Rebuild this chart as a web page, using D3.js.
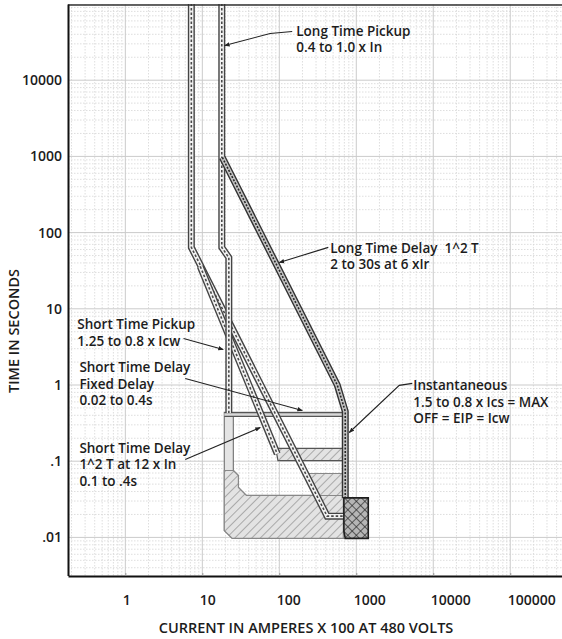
<!DOCTYPE html>
<html>
<head>
<meta charset="utf-8">
<script src="https://cdn.jsdelivr.net/npm/d3@7"></script>
<style>
  body { margin: 0; background: #fff; }
  text { font-family: "Open Sans", sans-serif; }
</style>
</head>
<body>
<div class="chart"></div>
<script>
var svgWidth = 562;
var svgHeight = 639;

// plot frame
var plot = { left: 68, right: 562, top: 4, bottom: 576 };

// axis ticks
var xTicks = [1, 10, 100, 1000, 10000, 100000];
var xTickLabels = ["1", "10", "100", "1000", "10000", "100000"];
var yTicks = [0.01, 0.1, 1, 10, 100, 1000, 10000];
var yTickLabels = [".01", ".1", "1", "10", "100", "1000", "10000"];

// trip curves, points are [current x100 A, seconds]
var pickupMin = [[7.2, 2e5], [7.2, 64], [418, 0.019], [700, 0.019]];
var stRamp = [[9.4, 36], [94, 0.125]];
var pickupMax = [[17.9, 2e5], [17.9, 64], [22.1, 47], [22.1, 0.43]];
var longTimeDelay = [[18.2, 968], [566, 1.0], [719, 0.45], [719, 0.033]];

// short time regions
var fixedOuter = [[19.3, 0.436], [764, 0.436], [764, 0.0097], [24.5, 0.0097], [19.3, 0.0123]];
var fixedInner = [[25.3, 0.386], [678, 0.386], [678, 0.0355], [37.3, 0.0355], [29.4, 0.0452], [29.4, 0.0649], [25.3, 0.0755]];
var lowerHatch = [[19.3, 0.0755], [19.3, 0.0123], [24.5, 0.0097], [678, 0.0097], [678, 0.0355], [37.3, 0.0355], [29.4, 0.0452], [29.4, 0.0649], [25.3, 0.0755]];
var fixedLine = [[19.3, 0.41], [764, 0.41]];
var midHatch = [[219, 0.069], [700, 0.069], [700, 0.0355], [306, 0.0355]];
var rampHatch = [[90, 0.147], [719, 0.147], [719, 0.102], [96, 0.102]];
var instBox = [[690, 0.033], [1431, 0.033], [1431, 0.0097], [720, 0.0097], [690, 0.012]];

// callouts: text lines, anchor [current, seconds] of first baseline, leader points
var notes = [
  { lines: ["Long Time Pickup", "0.4 to 1.0 x In"], at: [166, 38600],
    leader: [[147, 43600], [76, 41000], [19.5, 28500]] },
  { lines: ["Long Time Delay  1^2 T", "2 to 30s at 6 xIr"], at: [459, 54.8],
    leader: [[433, 64], [100, 40.5]] },
  { lines: ["Short Time Pickup", "1.25 to 0.8 x Icw"], at: [0.238, 5.35],
    leader: [[5.7, 4.07], [18.7, 2.92]] },
  { lines: ["Short Time Delay", "Fixed Delay", "0.02 to 0.4s"], at: [0.253, 1.46],
    leader: [[6.0, 1.22], [199, 0.463]] },
  { lines: ["Short Time Delay", "1^2 T at 12 x In", "0.1 to .4s"], at: [0.253, 0.130],
    leader: [[6.0, 0.105], [56.6, 0.277]] },
  { lines: ["Instantaneous", "1.5 to 0.8 x Ics = MAX", "OFF = EIP = Icw"], at: [5500, 0.847],
    leader: [[5336, 1.05], [3617, 0.99], [811, 0.238]] }
];

var svg = d3.select(".chart")
  .append("svg")
  .attr("width", svgWidth)
  .attr("height", svgHeight);

var xScale = d3.scaleLog()
  .domain([0.18, 470000])
  .range([plot.left, plot.right]);

var yScale = d3.scaleLog()
  .domain([Math.pow(10, -2.5), 1e5])
  .range([575.5, 4]);

var line = d3.line()
  .x(d => xScale(d[0]))
  .y(d => yScale(d[1]));

// patterns
var defs = svg.append("defs");

defs.append("clipPath").attr("id", "plotClip")
  .append("rect")
  .attr("x", plot.left).attr("y", plot.top)
  .attr("width", plot.right - plot.left).attr("height", plot.bottom - plot.top);

var hatch = defs.append("pattern")
  .attr("id", "hatch")
  .attr("patternUnits", "userSpaceOnUse")
  .attr("width", 6).attr("height", 6)
  .attr("patternTransform", "rotate(45)");
hatch.append("rect").attr("width", 6).attr("height", 6).attr("fill", "#e3e3e3");
hatch.append("line").attr("x1", 0).attr("y1", 0).attr("x2", 0).attr("y2", 6)
  .attr("stroke", "#707070").attr("stroke-width", 1);

var cross = defs.append("pattern")
  .attr("id", "cross")
  .attr("patternUnits", "userSpaceOnUse")
  .attr("width", 6).attr("height", 6)
  .attr("patternTransform", "rotate(45)");
cross.append("rect").attr("width", 6).attr("height", 6).attr("fill", "#b5b5b5");
cross.append("line").attr("x1", 0).attr("y1", 0).attr("x2", 0).attr("y2", 6)
  .attr("stroke", "#222").attr("stroke-width", 1.3);
cross.append("line").attr("x1", 0).attr("y1", 0).attr("x2", 6).attr("y2", 0)
  .attr("stroke", "#222").attr("stroke-width", 1.3);

defs.append("marker")
  .attr("id", "arrow")
  .attr("viewBox", "0 0 10 10")
  .attr("refX", 9).attr("refY", 5)
  .attr("markerWidth", 5).attr("markerHeight", 5)
  .attr("orient", "auto")
  .append("path")
  .attr("d", "M0,1 L10,5 L0,9 Z")
  .attr("fill", "#222");

// grid
var gridGroup = svg.append("g").attr("clip-path", "url(#plotClip)");
var minorX = [], majorX = [], minorY = [], majorY = [];
for (var k = -1; k <= 6; k++) {
  for (var m = 1; m <= 9; m++) {
    var v = m * Math.pow(10, k);
    (m === 1 ? majorX : minorX).push(v);
  }
}
for (var k = -3; k <= 5; k++) {
  for (var m = 1; m <= 9; m++) {
    var v = m * Math.pow(10, k);
    (m === 1 ? majorY : minorY).push(v);
  }
}
gridGroup.selectAll(".gxm").data(minorX).enter().append("line")
  .attr("x1", d => xScale(d)).attr("x2", d => xScale(d))
  .attr("y1", plot.top).attr("y2", plot.bottom)
  .attr("stroke", "#d6d6d6").attr("stroke-width", 0.8).attr("stroke-dasharray", "1.5,1.5");
gridGroup.selectAll(".gym").data(minorY).enter().append("line")
  .attr("y1", d => yScale(d)).attr("y2", d => yScale(d))
  .attr("x1", plot.left).attr("x2", plot.right)
  .attr("stroke", "#d6d6d6").attr("stroke-width", 0.8).attr("stroke-dasharray", "1.5,1.5");
gridGroup.selectAll(".gxM").data(majorX).enter().append("line")
  .attr("x1", d => xScale(d)).attr("x2", d => xScale(d))
  .attr("y1", plot.top).attr("y2", plot.bottom)
  .attr("stroke", "#cbcbcb").attr("stroke-width", 1);
gridGroup.selectAll(".gyM").data(majorY).enter().append("line")
  .attr("y1", d => yScale(d)).attr("y2", d => yScale(d))
  .attr("x1", plot.left).attr("x2", plot.right)
  .attr("stroke", "#cbcbcb").attr("stroke-width", 1);

// curves
var curveGroup = svg.append("g").attr("clip-path", "url(#plotClip)");

curveGroup.append("path")
  .attr("d", line(fixedOuter) + "Z" + line(fixedInner) + "Z")
  .attr("fill", "#e4e4e4").attr("fill-rule", "evenodd")
  .attr("stroke", "#7a7a7a").attr("stroke-width", 1.2);

[lowerHatch, midHatch].forEach(function(poly) {
  curveGroup.append("path")
    .attr("d", line(poly) + "Z")
    .attr("fill", "url(#hatch)")
    .attr("stroke", "#888").attr("stroke-width", 1.1);
});

// fixed delay line, darker double edge
curveGroup.append("path")
  .attr("d", line(fixedLine))
  .attr("fill", "none")
  .attr("stroke", "#555").attr("stroke-width", 5);
curveGroup.append("path")
  .attr("d", line(fixedLine))
  .attr("fill", "none")
  .attr("stroke", "#d8d8d8").attr("stroke-width", 2.4);

curveGroup.append("path")
  .attr("d", line(rampHatch) + "Z")
  .attr("fill", "url(#hatch)")
  .attr("stroke", "#555").attr("stroke-width", 1.2);

function drawBand(points, dark) {
  curveGroup.append("path")
    .attr("d", line(points))
    .attr("fill", "none")
    .attr("stroke", dark ? "#333" : "#444")
    .attr("stroke-width", 7)
    .attr("stroke-linejoin", "miter");
  curveGroup.append("path")
    .attr("d", line(points))
    .attr("fill", "none")
    .attr("stroke", dark ? "#c4c4c4" : "#f2f2f2")
    .attr("stroke-width", 4.2)
    .attr("stroke-linejoin", "miter");
  curveGroup.append("path")
    .attr("d", line(points))
    .attr("fill", "none")
    .attr("stroke", dark ? "#262626" : "#4a4a4a")
    .attr("stroke-width", 1.6)
    .attr("stroke-dasharray", dark ? "2,1.5" : "2.5,2");
}

drawBand(pickupMin, false);
drawBand(stRamp, false);
drawBand(pickupMax, false);
drawBand(longTimeDelay, true);

curveGroup.append("path")
  .attr("d", line(instBox) + "Z")
  .attr("fill", "url(#cross)")
  .attr("stroke", "#1e1e1e").attr("stroke-width", 1.6);

// callouts
var noteGroup = svg.append("g");
notes.forEach(function(n) {
  noteGroup.append("path")
    .attr("d", line(n.leader))
    .attr("fill", "none")
    .attr("stroke", "#222")
    .attr("stroke-width", 1.1)
    .attr("marker-end", "url(#arrow)");
  var t = noteGroup.append("text")
    .attr("x", xScale(n.at[0]))
    .attr("y", yScale(n.at[1]))
    .style("font-size", "13.5px")
    .style("font-weight", 600)
    .style("white-space", "pre")
    .attr("fill", "#1c1c1c");
  n.lines.forEach(function(s, i) {
    t.append("tspan")
      .attr("x", xScale(n.at[0]))
      .attr("dy", i === 0 ? 0 : 16.5)
      .text(s);
  });
});

// frame
svg.append("line")
  .attr("x1", plot.left).attr("x2", plot.right)
  .attr("y1", plot.top + 1).attr("y2", plot.top + 1)
  .attr("stroke", "#333").attr("stroke-width", 1.5);

var bottomAxis = d3.axisBottom(xScale)
  .tickValues(xTicks)
  .tickFormat((d, i) => xTickLabels[i])
  .tickSize(-3)
  .tickSizeOuter(0);

var leftAxis = d3.axisLeft(yScale)
  .tickValues(yTicks)
  .tickFormat((d, i) => yTickLabels[i])
  .tickSize(0)
  .tickSizeOuter(0);

var xAxis = svg.append("g")
  .attr("transform", `translate(0, ${plot.bottom})`)
  .call(bottomAxis);
xAxis.select(".domain").attr("stroke", "#111").attr("stroke-width", 2);
xAxis.selectAll(".tick line").attr("stroke", "#999");
xAxis.selectAll(".tick text")
  .attr("text-anchor", "start")
  .attr("dx", -3)
  .attr("y", 19)
  .style("font-size", "14px")
  .style("font-weight", 600)
  .attr("fill", "#1c1c1c");

var yAxis = svg.append("g")
  .attr("transform", `translate(${plot.left}, 0)`)
  .call(leftAxis);
yAxis.select(".domain").attr("stroke", "#111").attr("stroke-width", 2);
yAxis.selectAll(".tick text")
  .attr("x", -6)
  .style("font-size", "14px")
  .style("font-weight", 600)
  .attr("fill", "#1c1c1c");

// axis titles
svg.append("text")
  .attr("transform", "translate(19, 331) rotate(-90)")
  .attr("text-anchor", "middle")
  .style("font-size", "14.5px")
  .style("font-weight", 600)
  .attr("fill", "#1c1c1c")
  .text("TIME IN SECONDS");

svg.append("text")
  .attr("x", 306)
  .attr("y", 633)
  .attr("text-anchor", "middle")
  .style("font-size", "14.5px")
  .style("font-weight", 600)
  .attr("fill", "#1c1c1c")
  .text("CURRENT IN AMPERES X 100 AT 480 VOLTS");
</script>
</body>
</html>
